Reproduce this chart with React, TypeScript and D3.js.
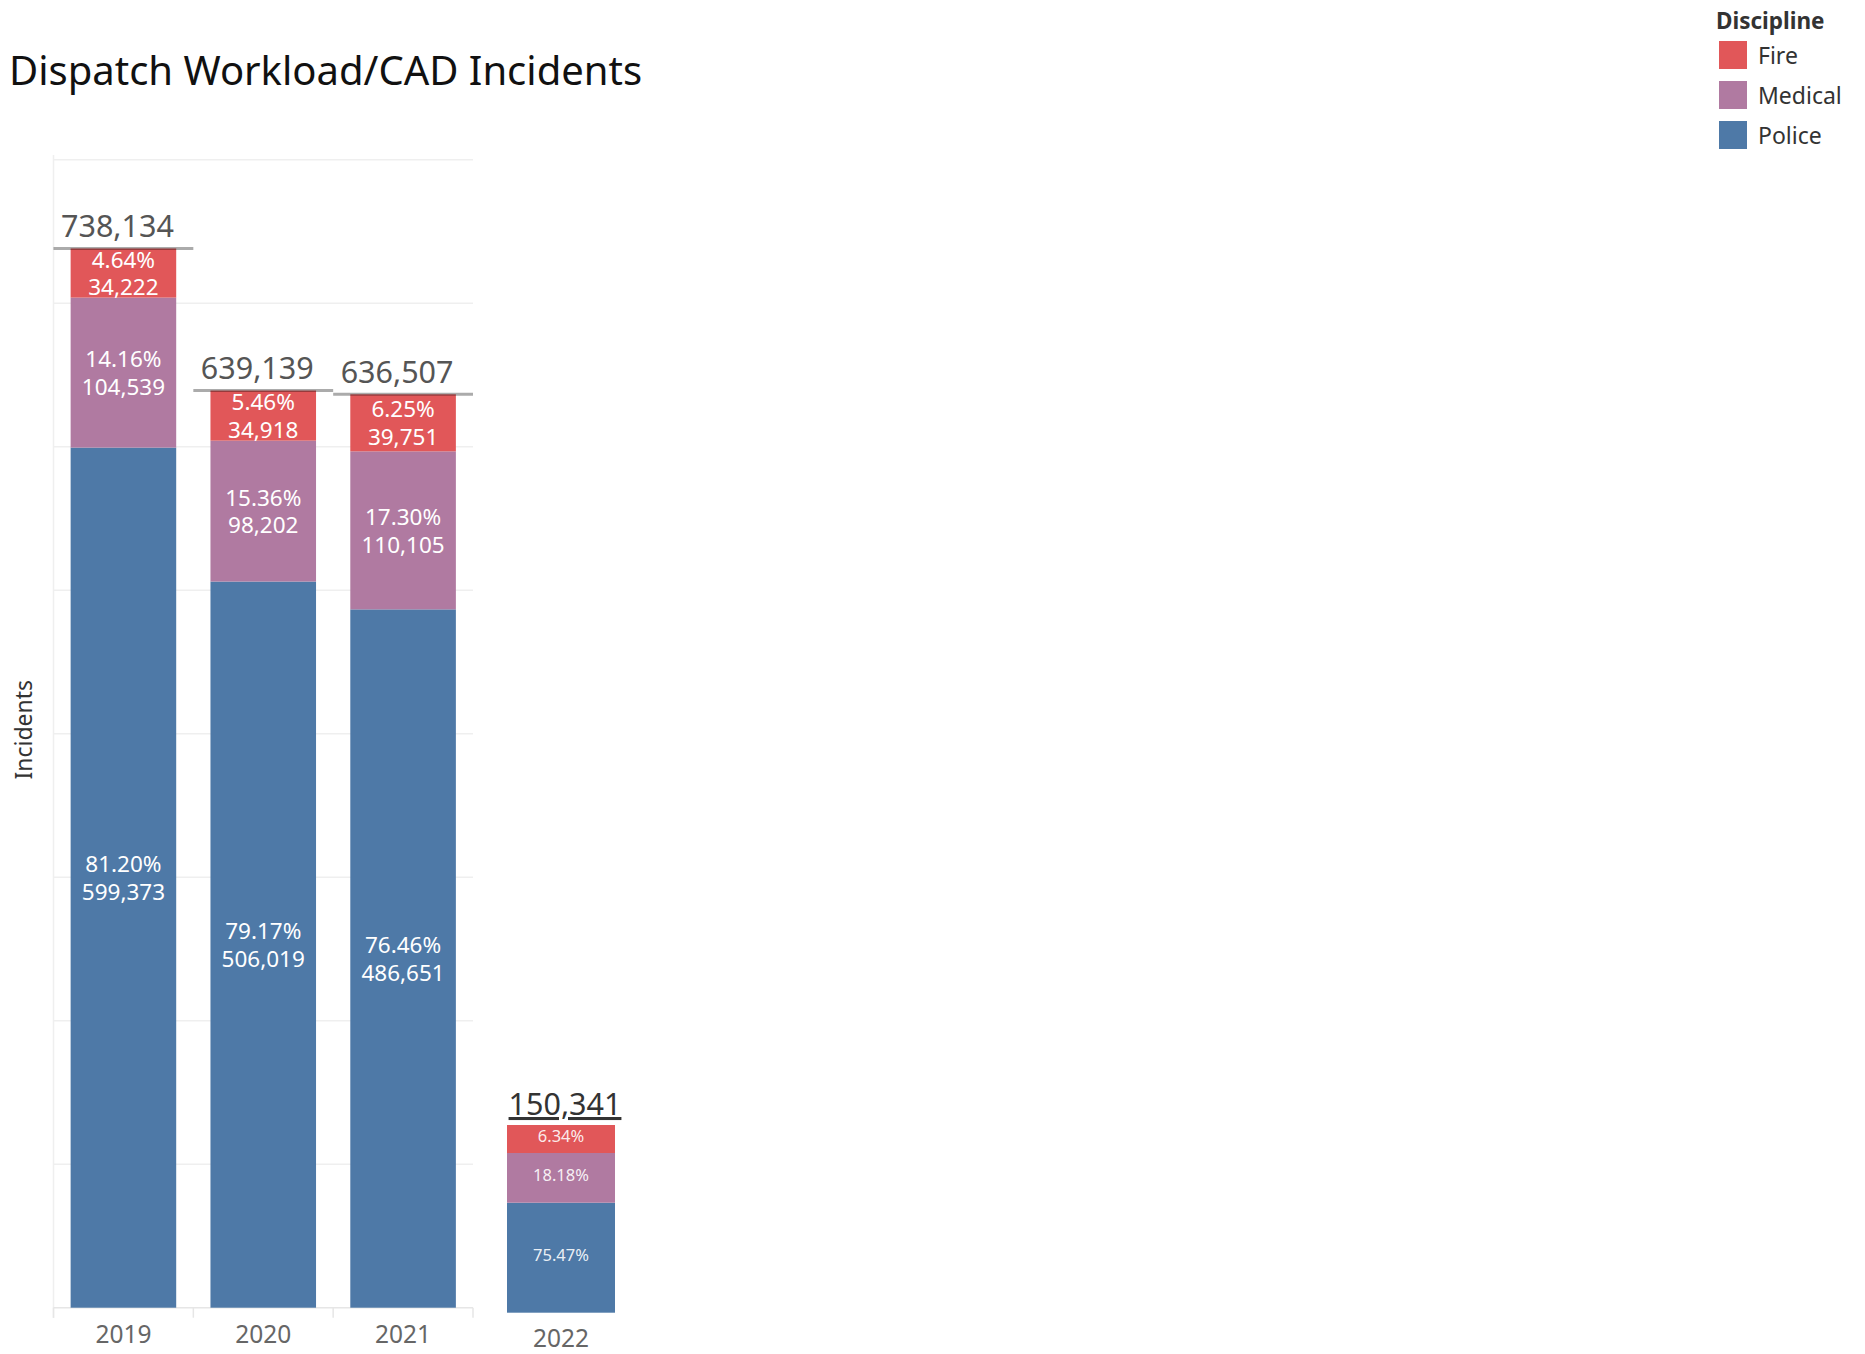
import React from 'react';
import * as d3 from 'd3';

// ---- data ----
const years = ['2019', '2020', '2021'];
const fireValues = [34222, 34918, 39751];
const medicalValues = [104539, 98202, 110105];
const policeValues = [599373, 506019, 486651];
const totalValues = [738134, 639139, 636507];
const firePct = ['4.64%', '5.46%', '6.25%'];
const medicalPct = ['14.16%', '15.36%', '17.30%'];
const policePct = ['81.20%', '79.17%', '76.46%'];

// 2022 (year to date) panel, own axis; segment sizes as drawn
const ytdYear = '2022';
const ytdTotal = 150341;
const ytdFire = 22427;
const ytdMedical = 39808;
const ytdPolice = 88106;
const ytdFirePct = '6.34%';
const ytdMedicalPct = '18.18%';
const ytdPolicePct = '75.47%';

const disciplines = ['Fire', 'Medical', 'Police'];
const disciplineColors = ['#e15759', '#b07aa1', '#4e79a7'];

const FONT = '"Noto Sans", "Open Sans", sans-serif';

export default function App() {
  const W = 1865;
  const H = 1354;

  const color = d3.scaleOrdinal<string, string>().domain(disciplines).range(disciplineColors);

  // main panel
  const x = d3.scaleBand<string>().domain(years).range([53.5, 473]).paddingInner(0.245).paddingOuter(0.1225);
  const y = d3.scaleLinear().domain([0, 800000]).range([1307.7, 159.7]);
  const step = x.step();
  const bw = x.bandwidth();

  const rows = years.map((yr, i) => ({
    year: yr,
    Police: policeValues[i],
    Medical: medicalValues[i],
    Fire: fireValues[i],
  }));
  const stack = d3.stack<any>().keys(['Police', 'Medical', 'Fire']);
  const series = stack(rows);
  const pctMap: Record<string, string[]> = { Police: policePct, Medical: medicalPct, Fire: firePct };

  // 2022 panel
  const x2 = d3.scaleBand<string>().domain([ytdYear]).range([507, 615]);
  const y2 = d3.scaleLinear().domain([0, ytdTotal]).range([1312.7, 1125]);
  const ytdSeries = stack([{ year: ytdYear, Police: ytdPolice, Medical: ytdMedical, Fire: ytdFire }]);
  const ytdPctMap: Record<string, string> = { Police: ytdPolicePct, Medical: ytdMedicalPct, Fire: ytdFirePct };

  const fmt = d3.format(',');
  const gridTicks = y.ticks(8);
  const cellEdges = years.map((yr) => (x(yr) as number) - (step - bw) / 2).concat([473]);

  return (
    <svg
      width={W}
      height={H}
      style={{ position: 'absolute', left: 0, top: 0, background: '#fff' }}
      fontFamily={FONT}
    >
      <rect x={0} y={0} width={W} height={H} fill="#fff" />
      {/* title */}
      <text x={9} y={85} fontSize={40} fill="#111">
        Dispatch Workload/CAD Incidents
      </text>

      {/* y axis title */}
      <text
        transform={`translate(32, ${y(400000) - 4}) rotate(-90)`}
        textAnchor="middle"
        fontSize={23}
        fill="#333"
      >
        Incidents
      </text>

      {/* gridlines */}
      <g>
        {gridTicks
          .filter((t) => t > 0)
          .map((t) => (
            <line key={t} x1={53.5} x2={473} y1={y(t)} y2={y(t)} stroke="#efefef" strokeWidth={1.5} />
          ))}
        <line x1={53.5} x2={53.5} y1={155} y2={1318} stroke="#efefef" strokeWidth={1.5} />
        <line x1={53.5} x2={473} y1={y(0)} y2={y(0)} stroke="#e6e6e6" strokeWidth={1.5} />
        {cellEdges.map((e, i) => (
          <line key={i} x1={e} x2={e} y1={y(0)} y2={y(0) + 10} stroke="#e6e6e6" strokeWidth={1.5} />
        ))}
      </g>

      {/* main bars */}
      {series.map((s) => (
        <g key={s.key} fill={color(s.key)}>
          {s.map((d: any) => (
            <rect key={d.data.year} x={x(d.data.year)} width={bw} y={y(d[1])} height={y(d[0]) - y(d[1])} />
          ))}
        </g>
      ))}

      {/* segment labels */}
      {series.map((s) => (
        <g key={'l' + s.key} fill="#fff" fontSize={22.5} textAnchor="middle">
          {s.map((d: any, i: number) => {
            const cx = (x(d.data.year) as number) + bw / 2;
            const cy = (y(d[0]) + y(d[1])) / 2;
            return (
              <g key={d.data.year}>
                <text x={cx} y={cy - 5.5}>{pctMap[s.key][i]}</text>
                <text x={cx} y={cy + 22.3}>{fmt(d[1] - d[0])}</text>
              </g>
            );
          })}
        </g>
      ))}

      {/* total reference lines + labels */}
      {years.map((yr, i) => {
        const x0 = (x(yr) as number) - (step - bw) / 2;
        const ty = y(totalValues[i]);
        return (
          <g key={'t' + yr}>
            <line x1={x0} x2={x0 + step} y1={ty} y2={ty} stroke="#000" strokeOpacity={0.33} strokeWidth={3} />
            <text x={x0 + step / 2 - 6} y={ty - 11.5} textAnchor="middle" fontSize={30.5} fill="#555">
              {fmt(totalValues[i])}
            </text>
          </g>
        );
      })}

      {/* x axis labels */}
      {years.map((yr) => (
        <text key={'x' + yr} x={(x(yr) as number) + bw / 2} y={1343.3} textAnchor="middle" fontSize={24.5} fill="#666">
          {yr}
        </text>
      ))}

      {/* 2022 panel */}
      {ytdSeries.map((s) => (
        <g key={'y' + s.key}>
          {s.map((d: any) => {
            const cx = (x2(d.data.year) as number) + x2.bandwidth() / 2;
            const cy = (y2(d[0]) + y2(d[1])) / 2;
            return (
              <g key={d.data.year}>
                <rect x={x2(d.data.year)} width={x2.bandwidth()} y={y2(d[1])} height={y2(d[0]) - y2(d[1])} fill={color(s.key)} />
                <text x={cx} y={cy + 3.4} textAnchor="middle" fontSize={16.5} fill="#fff" fillOpacity={0.9}>
                  {ytdPctMap[s.key]}
                </text>
              </g>
            );
          })}
        </g>
      ))}
      <text
        x={(x2(ytdYear) as number) + x2.bandwidth() / 2 + 4}
        y={y2(ytdTotal) - 10}
        textAnchor="middle"
        fontSize={30.5}
        fill="#333"
        style={{ textDecoration: 'underline' }}
      >
        {fmt(ytdTotal)}
      </text>
      <text x={(x2(ytdYear) as number) + x2.bandwidth() / 2} y={1346.7} textAnchor="middle" fontSize={24.5} fill="#666">
        {ytdYear}
      </text>

      {/* legend */}
      <g>
        <text x={1716} y={29.3} fontSize={22.5} fontWeight="bold" fill="#333">
          Discipline
        </text>
        {disciplines.map((dn, i) => (
          <g key={dn} transform={`translate(1719, ${41 + i * 40})`}>
            <rect width={28} height={28} fill={color(dn)} />
            <text x={39} y={23.3} fontSize={23} fill="#333">
              {dn}
            </text>
          </g>
        ))}
      </g>
    </svg>
  );
}
